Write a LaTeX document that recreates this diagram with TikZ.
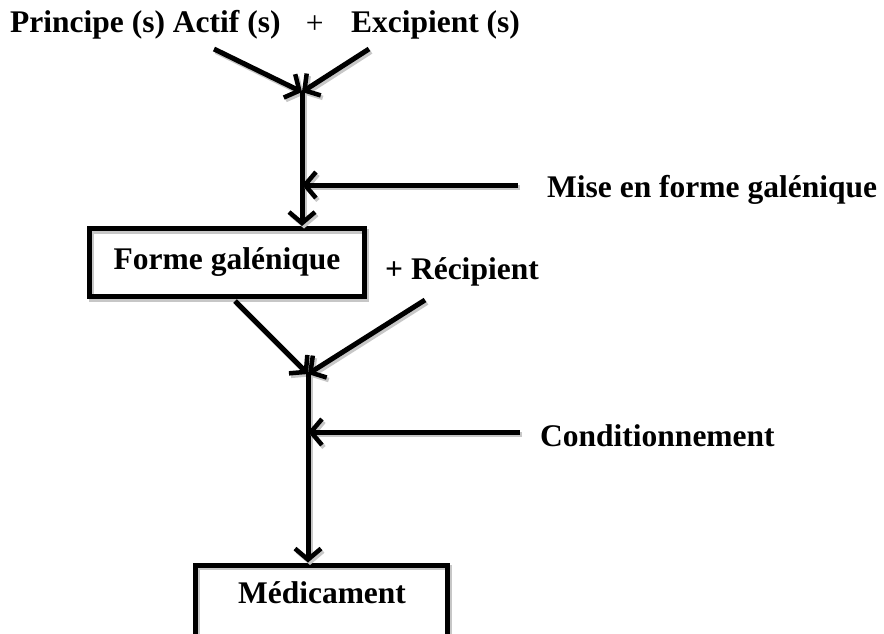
\documentclass[tikz,border=0pt]{standalone}
\usepackage{fontspec}
\setmainfont{Liberation Serif}
\usetikzlibrary{arrows.meta,positioning}

\tikzset{
  shade/.style={preaction={draw=black!22, line width=5pt, transform canvas={xshift=2pt,yshift=-2.5pt}}},
  flow/.style={shade, line width=5pt, -{Straight Barb[length=11pt,width=26pt,line width=4.5pt]}},
  txt/.style={font=\bfseries\fontsize{31.5}{36}\selectfont, inner sep=0pt},
  stage/.style={draw, line width=5pt, inner sep=0pt, shade},
}

\begin{document}
\begin{tikzpicture}[x=1pt,y=-1pt]
  \clip (0,0) rectangle (884,634);
  % top inputs
  \node[txt, anchor=west] (pa) at (10,25) {Principe (s) Actif (s)};
  \node[txt, font=\fontsize{31.5}{36}\selectfont, right=25pt of pa] (plus) {+};
  \node[txt, right=27pt of plus] (exc) {Excipient (s)};
  \coordinate (pa1) at (214,49);
  \coordinate (exc1) at (369,49);
  \coordinate (j1) at (302,92);
  \draw[flow] (pa1) -- (j1);
  \draw[flow] (exc1) -- (j1);
  % galenic form
  \node[stage, minimum width=275pt, minimum height=68pt] (fg) at (227,262.5) {};
  \node[txt] (fgt) at (fg.center) {Forme galénique};
  \node[txt, anchor=west] (mise) at (547,190) {Mise en forme galénique};
  \coordinate (mise1) at (518,185);
  \draw[flow] (j1) -- (j1 |- fg.north);
  \draw[flow] (mise1) -- (mise1 -| j1);
  % packaging
  \node[txt, anchor=west] (rec) at (385,272) {+ Récipient};
  \coordinate (fg1) at (235,301);
  \coordinate (rec1) at (425,300);
  \coordinate (j2) at (308,374);
  \draw[flow] (fg1) -- (j2);
  \draw[flow] (rec1) -- (j2);
  \node[stage, minimum width=252pt, minimum height=100pt, anchor=north] (med) at (321.5,562.5) {};
  \node[txt] (medt) at (322,593) {Médicament};
  \node[txt, anchor=west] (cond) at (540,436) {Conditionnement};
  \coordinate (cond1) at (520,432);
  \draw[flow] (j2) -- (j2 |- med.north);
  \draw[flow] (cond1) -- (cond1 -| j2);
\end{tikzpicture}
\end{document}
